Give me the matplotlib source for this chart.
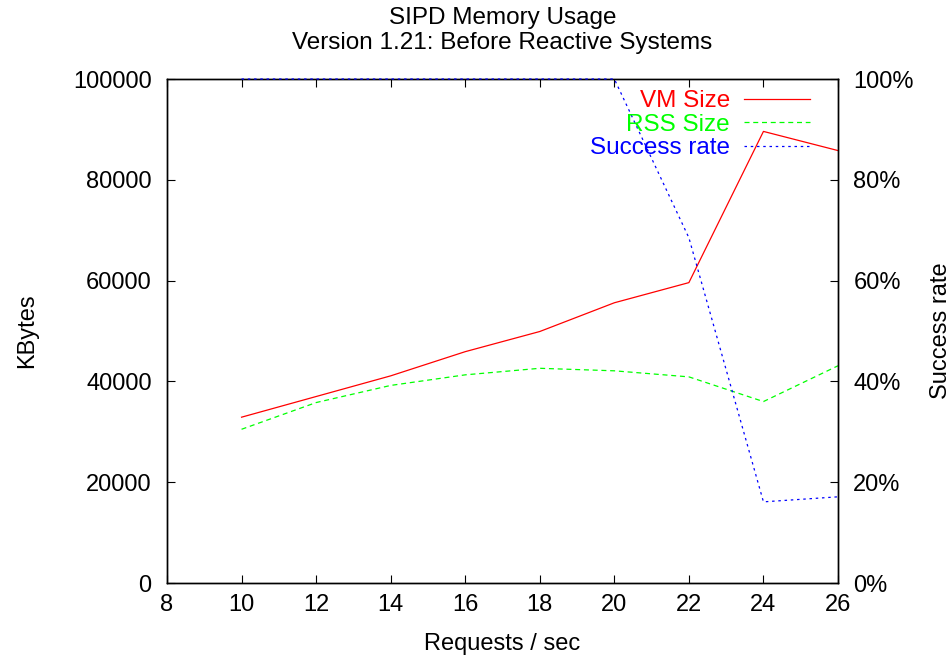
import matplotlib
matplotlib.use('Agg')
import matplotlib.pyplot as plt
from matplotlib.ticker import FuncFormatter

plt.rcParams['font.family'] = ['Liberation Sans', 'DejaVu Sans']
plt.rcParams['font.size'] = 17

######## data ########
rates = [10, 12, 14, 16, 18, 20, 22, 24, 26]            # requests / sec
vm_size = [32900, 37000, 41100, 45900, 49900, 55600, 59600, 89600, 85800]   # KBytes
rss_size = [30500, 35800, 39200, 41300, 42600, 42100, 40900, 36000, 43100]  # KBytes
success = [100, 100, 100, 100, 100, 100, 68.5, 16.1, 17.1]  # percent

fig = plt.figure(figsize=(9.51, 6.6), dpi=100)
ax = fig.add_axes([167/951, 1 - 583/660, (838 - 167)/951, (583 - 79)/660])
ax2 = ax.twinx()

l1, = ax.plot(rates, vm_size, color='#ff0000', linestyle='-', linewidth=0.9)
l2, = ax.plot(rates, rss_size, color='#00ff00', linestyle=(0, (4, 3)), linewidth=0.9)
# success rate sits on the top border at 100%, so draw it over the frame
l3, = ax2.plot(rates, success, color='#0000ff', linestyle=(0, (2, 3)), linewidth=0.9,
               clip_on=False, zorder=5)

ax.set_xlim(8, 26)
ax.set_ylim(0, 100000)
ax2.set_ylim(0, 100)
ax.set_xticks(range(8, 27, 2))
ax.set_yticks(range(0, 100001, 20000))
ax2.set_yticks(range(0, 101, 20))
ax2.yaxis.set_major_formatter(FuncFormatter(lambda v, p: '%d%%' % v))

ax.tick_params(axis='x', direction='in', length=6, top=True, pad=8)
ax.tick_params(axis='y', direction='in', length=6, pad=11)
ax2.tick_params(axis='y', direction='in', length=6, pad=11)
for a in (ax, ax2):
    for s in a.spines.values():
        s.set_linewidth(1.0)

ax.set_xlabel('Requests / sec', labelpad=12)
ax.set_ylabel('KBytes', labelpad=25)
ax2.set_ylabel('Success rate', labelpad=12)
fig.text(502.5/951, 1 - 18/660, 'SIPD Memory Usage', fontsize=17.5,
         ha='center', va='center')
fig.text(502.5/951, 1 - 43/660, 'Version 1.21: Before Reactive Systems', fontsize=17.5,
         ha='center', va='center')

leg = ax2.legend([l1, l2, l3], ['VM Size', 'RSS Size', 'Success rate'],
                 loc='upper right', bbox_to_anchor=(810/951, 1 - 90/660),
                 bbox_transform=fig.transFigure, frameon=False, fontsize=17.5,
                 markerfirst=False, handlelength=2.7, handletextpad=0.6,
                 labelspacing=0.07, borderpad=0, borderaxespad=0)
for txt, c in zip(leg.get_texts(), ['#ff0000', '#00ff00', '#0000ff']):
    txt.set_color(c)

fig.savefig('out.png', dpi=100)
